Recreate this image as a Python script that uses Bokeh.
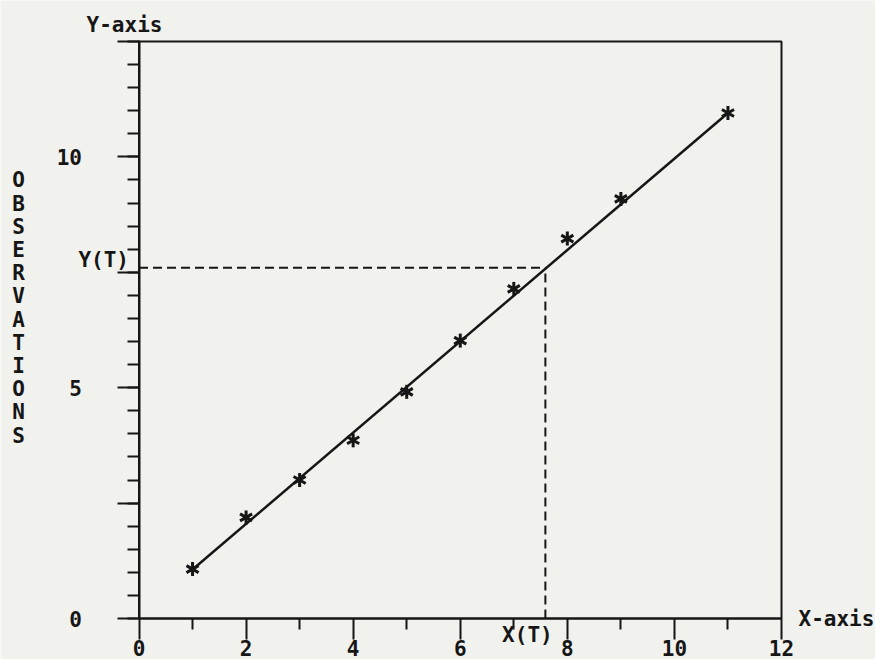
import math
from bokeh.plotting import figure
from bokeh.models import FixedTicker, Label, Range1d
from bokeh.embed import file_html
from bokeh.resources import INLINE

# ---- data ----
obs_x = [1, 2, 3, 4, 5, 6, 7, 8, 9, 11]
obs_y = [1.07, 2.19, 3.00, 3.86, 4.91, 6.02, 7.14, 8.23, 9.09, 10.95]
fit_x = [1, 11]
fit_y = [1.06, 10.95]
x_t = 7.59
y_t = 7.6

x_lim = (0, 12)
y_lim = (0, 12.5)
x_major = [0, 2, 4, 6, 8, 10, 12]
x_minor = [1, 3, 5, 7, 9, 11]
y_major = [0, 2.5, 5, 7.5, 10, 12.5]
y_major_labels = ["0", "", "5", "", "10", ""]
y_minor = [i * 0.5 for i in range(26)]

y_title = "OBSERVATIONS"

# ---- layout (pixels) ----
W, H = 875, 659
FL, FR, FT, FB = 138.5, 781.0, 41.0, 618.0      # plot box edges in canvas px
sx = (FR - FL) / (x_lim[1] - x_lim[0])
sy = (FB - FT) / (y_lim[1] - y_lim[0])
xr = Range1d(x_lim[0] - FL / sx, x_lim[1] + (W - FR) / sx)
yr = Range1d(y_lim[0] - (H - FB) / sy, y_lim[1] + FT / sy)

FONT = "DejaVu Sans Mono"
INK = "#161616"
BG = "#f1f1ed"
FS = "21px"

p = figure(width=W, height=H, x_range=xr, y_range=yr, min_border=0,
           output_backend="svg", toolbar_location=None)
p.background_fill_color = BG
p.border_fill_color = BG
p.outline_line_color = None
p.grid.visible = False


def style_axis(ax, standoff):
    ax.major_tick_in = 0
    ax.minor_tick_in = 0
    ax.major_tick_line_width = 2
    ax.minor_tick_line_width = 2
    ax.axis_line_width = 2
    ax.axis_line_color = INK
    ax.major_tick_line_color = INK
    ax.minor_tick_line_color = INK
    ax.major_label_standoff = standoff
    ax.major_label_text_font = FONT
    ax.major_label_text_font_style = "bold"
    ax.major_label_text_font_size = FS
    ax.major_label_text_color = INK


xa = p.xaxis[0]
xa.fixed_location = y_lim[0]
xa.bounds = x_lim
xa.ticker = FixedTicker(ticks=x_major, minor_ticks=x_minor)
xa.major_tick_out = 21
xa.minor_tick_out = 11
style_axis(xa, 0)

ya = p.yaxis[0]
ya.fixed_location = x_lim[0]
ya.bounds = y_lim
ya.ticker = FixedTicker(ticks=y_major, minor_ticks=y_minor)
ya.major_label_overrides = {t: l for t, l in zip(y_major, y_major_labels)}
ya.major_label_orientation = "horizontal"
ya.major_tick_out = 22
ya.minor_tick_out = 12
style_axis(ya, 35)

# plot box (top and right edges)
p.quad(left=[x_lim[0]], right=[x_lim[1]], bottom=[y_lim[0]], top=[y_lim[1]],
       fill_color=None, line_color=INK, line_width=2)

# dashed guide lines
p.line([x_lim[0], x_t], [y_t, y_t], line_color=INK, line_width=2, line_dash="9 5")
p.line([x_t, x_t], [y_lim[0], y_t], line_color=INK, line_width=2, line_dash="9 5")

# fitted line
p.line(fit_x, fit_y, line_color=INK, line_width=2.5)

# six-point asterisk markers
for ang in (90, 30, -30):
    p.scatter(obs_x, obs_y, marker="dash", size=14, angle=math.radians(ang),
              line_color=INK, line_width=3)


def lab(x, y, text, align, baseline, **kw):
    p.add_layout(Label(x=x, y=y, text=text, text_font=FONT,
                       text_font_style="bold", text_font_size=FS,
                       text_color=INK, text_align=align,
                       text_baseline=baseline, **kw))


lab(x_lim[0] - 14.5 / sx, y_lim[1] + 17 / sy, "Y-axis", "center", "middle")
lab(x_lim[1] + 17 / sx, y_lim[0], "X-axis", "left", "middle")
lab(x_lim[0] - 10 / sx, y_t + 7.5 / sy, "Y(T)", "right", "middle")
lab(x_t - 18 / sx, y_lim[0] - 16 / sy, "X(T)", "center", "middle")
lab(x_lim[0] - 120.5 / sx, y_lim[1] - (307.5 - FT) / sy, "\n".join(y_title),
    "center", "middle", text_line_height=0.967)

open("out.html", "w").write(file_html(p, INLINE))
